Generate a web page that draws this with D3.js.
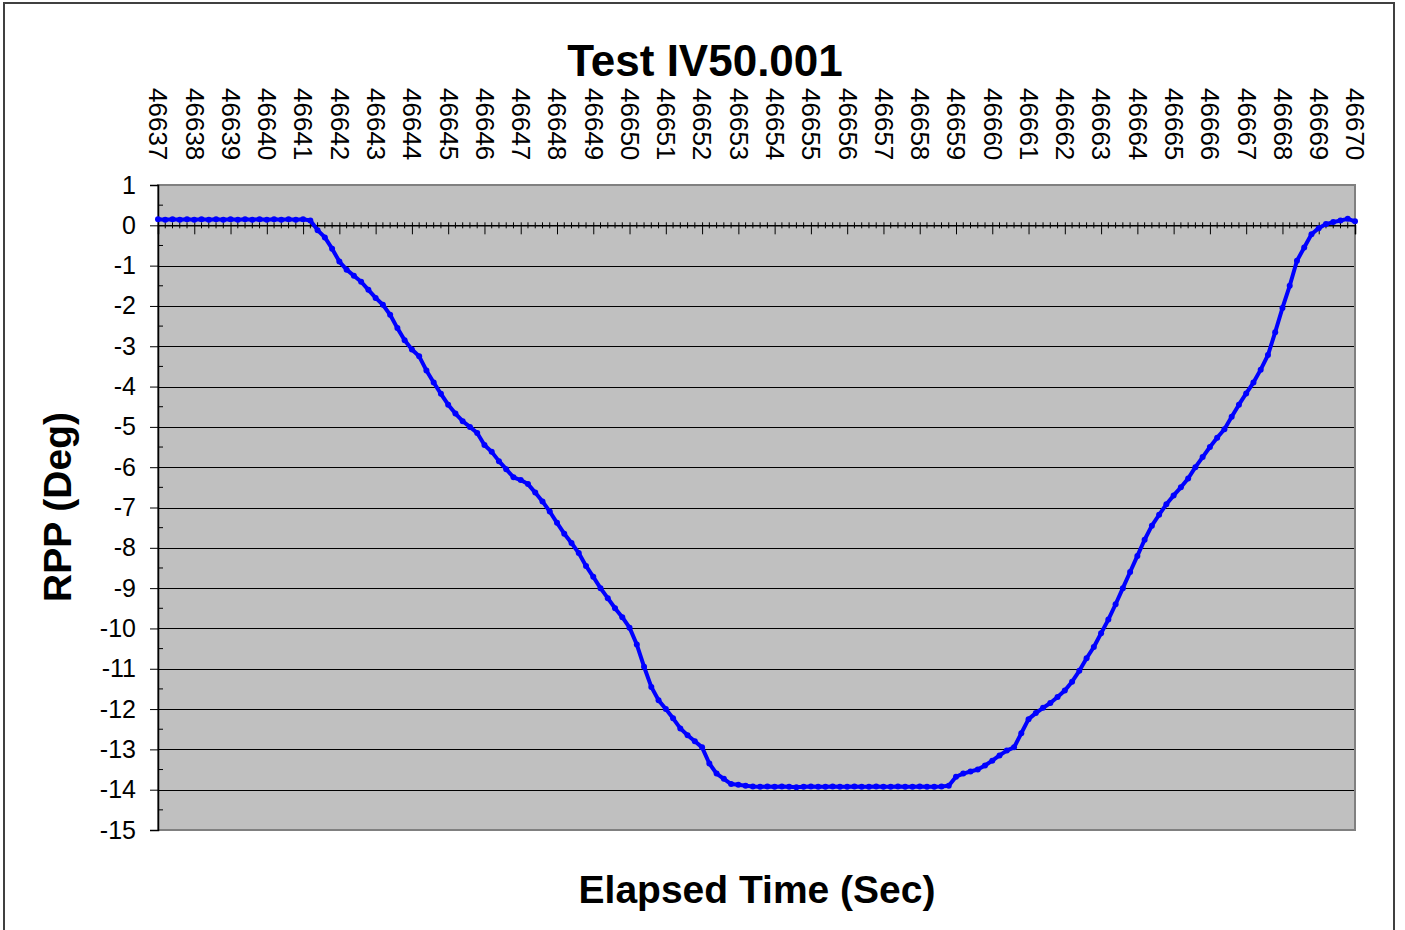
<!DOCTYPE html>
<html>
<head>
<meta charset="utf-8">
<script src="https://cdn.jsdelivr.net/npm/d3@7"></script>
<style>
  html, body { margin: 0; padding: 0; background: #fff; }
  svg { display: block; font-family: "Liberation Sans", Arial, sans-serif; }
</style>
</head>
<body>
<svg id="chart" width="1405" height="930"></svg>
<script>
// ---- data ----
const chartTitle = "Test IV50.001";
const xTitle = "Elapsed Time (Sec)";
const yTitle = "RPP (Deg)";
const startTime = 46637;      // first sample (s)
const sampleStep = 0.2;       // seconds between samples
const timeTicks = d3.range(46637, 46671);   // labelled seconds 46637..46670
const rppTicks = d3.range(-15, 2);          // -15..1
// RPP (deg), one value per 0.2 s from 46637.0 to 46670.0
const rppValues = [
  0.15, 0.14, 0.15, 0.14, 0.15,
  0.14, 0.15, 0.14, 0.15, 0.14,
  0.15, 0.14, 0.15, 0.14, 0.15,
  0.14, 0.15, 0.14, 0.15, 0.14,
  0.15, 0.12, -0.12, -0.30, -0.58,
  -0.90, -1.10, -1.25, -1.40, -1.60,
  -1.80, -1.97, -2.22, -2.55, -2.85,
  -3.08, -3.25, -3.60, -3.90, -4.18,
  -4.45, -4.67, -4.86, -5.00, -5.15,
  -5.45, -5.62, -5.85, -6.05, -6.25,
  -6.32, -6.42, -6.63, -6.85, -7.10,
  -7.38, -7.65, -7.88, -8.13, -8.45,
  -8.72, -9.00, -9.25, -9.50, -9.72,
  -9.98, -10.40, -10.95, -11.45, -11.78,
  -12.00, -12.23, -12.48, -12.65, -12.80,
  -12.95, -13.35, -13.60, -13.73, -13.86,
  -13.88, -13.90, -13.92, -13.93, -13.92,
  -13.93, -13.92, -13.93, -13.94, -13.93,
  -13.92, -13.93, -13.93, -13.92, -13.93,
  -13.93, -13.92, -13.93, -13.93, -13.92,
  -13.93, -13.93, -13.92, -13.93, -13.93,
  -13.92, -13.93, -13.93, -13.92, -13.90,
  -13.68, -13.60, -13.55, -13.50, -13.40,
  -13.28, -13.15, -13.03, -12.95, -12.60,
  -12.25, -12.10, -11.97, -11.85, -11.70,
  -11.54, -11.32, -11.05, -10.74, -10.46,
  -10.12, -9.78, -9.40, -9.00, -8.60,
  -8.20, -7.80, -7.45, -7.18, -6.92,
  -6.70, -6.50, -6.28, -6.00, -5.75,
  -5.50, -5.27, -5.06, -4.75, -4.45,
  -4.17, -3.90, -3.58, -3.22, -2.65,
  -2.05, -1.50, -0.88, -0.55, -0.22,
  -0.07, 0.03, 0.08, 0.12, 0.16,
  0.10
];

// ---- layout ----
const svg = d3.select("#chart");
const plot = { left: 158, right: 1355, top: 185, bottom: 830 };

const x = d3.scaleLinear().domain([46637, 46670]).range([plot.left, plot.right]);
const y = d3.scaleLinear().domain([-15, 1]).range([plot.bottom, plot.top]);

const data = rppValues.map((v, i) => ({ t: startTime + i * sampleStep, v }));

// outer chart border
svg.append("rect")
  .attr("x", 4).attr("y", 3).attr("width", 1390).attr("height", 960)
  .attr("fill", "#fff").attr("stroke", "#404040").attr("stroke-width", 2);

// plot area
svg.append("rect")
  .attr("x", plot.left).attr("y", plot.top)
  .attr("width", plot.right - plot.left).attr("height", plot.bottom - plot.top)
  .attr("fill", "#c0c0c0");

// gridlines
svg.append("g")
  .selectAll("line")
  .data(rppTicks.filter(d => d > -15 && d < 1))
  .join("line")
  .attr("x1", plot.left).attr("x2", plot.right)
  .attr("y1", d => Math.round(y(d)) + 0.5).attr("y2", d => Math.round(y(d)) + 0.5)
  .attr("stroke", "#000").attr("stroke-width", 1);

// plot border
svg.append("rect")
  .attr("x", plot.left).attr("y", plot.top)
  .attr("width", plot.right - plot.left).attr("height", plot.bottom - plot.top)
  .attr("fill", "none").attr("stroke", "#808080").attr("stroke-width", 2);

// y axis
const yAxis = d3.axisLeft(y).tickValues(rppTicks).tickSize(8).tickPadding(14)
  .tickFormat(d => String(d));
const gy = svg.append("g").attr("transform", `translate(${plot.left},0)`).call(yAxis);
gy.select(".domain").attr("stroke", "#000").attr("stroke-width", 1.5);
gy.selectAll(".tick line").attr("stroke", "#000");
gy.selectAll(".tick text").attr("font-size", 25).attr("fill", "#000")
  .attr("font-family", "'Liberation Sans', Arial, sans-serif");
// y minor ticks (inside)
const yMinor = d3.range(-14.5, 1, 1);
svg.append("g").selectAll("line").data(yMinor).join("line")
  .attr("x1", plot.left).attr("x2", plot.left + 5)
  .attr("y1", d => y(d)).attr("y2", d => y(d))
  .attr("stroke", "#000");

// x axis at y = 0 : major ticks
const xAxisLine = d3.axisBottom(x).tickValues(timeTicks).tickSize(9).tickFormat("");
const gx = svg.append("g").attr("transform", `translate(0,${y(0)})`).call(xAxisLine);
gx.select(".domain").attr("stroke", "#000").attr("stroke-width", 1.5);
gx.selectAll(".tick line").attr("stroke", "#000").attr("y1", -3);
// minor ticks every 0.2 s
const xMinor = d3.range(0, 33 * 5 + 1).map(i => startTime + i * sampleStep)
  .filter((d, i) => i % 5 !== 0);
gx.append("g").selectAll("line").data(xMinor).join("line")
  .attr("x1", d => x(d)).attr("x2", d => x(d))
  .attr("y1", -3).attr("y2", 3)
  .attr("stroke", "#000");

// x tick labels at top, rotated
const xLabelAxis = d3.axisTop(x).tickValues(timeTicks).tickSize(0).tickFormat(d => String(d));
const gxl = svg.append("g").attr("transform", `translate(0,88)`).call(xLabelAxis);
gxl.select(".domain").remove();
gxl.selectAll(".tick text")
  .attr("font-size", 26).attr("fill", "#000")
  .attr("font-family", "'Liberation Sans', Arial, sans-serif")
  .attr("transform", "rotate(90)")
  .attr("text-anchor", "start")
  .attr("x", 0).attr("y", 0).attr("dy", "0.35em");

// series line
const line = d3.line().x(d => x(d.t)).y(d => y(d.v));
svg.append("path").datum(data)
  .attr("d", line)
  .attr("fill", "none").attr("stroke", "#0000ff").attr("stroke-width", 4)
  .attr("stroke-linejoin", "round");
svg.append("g").selectAll("circle").data(data).join("circle")
  .attr("cx", d => x(d.t)).attr("cy", d => y(d.v)).attr("r", 3)
  .attr("fill", "#0000ff");

// titles
svg.append("text").attr("x", 705).attr("y", 76)
  .attr("text-anchor", "middle").attr("font-size", 44).attr("font-weight", "bold")
  .text(chartTitle);
svg.append("text").attr("x", 757).attr("y", 903)
  .attr("text-anchor", "middle").attr("font-size", 39).attr("font-weight", "bold")
  .text(xTitle);
svg.append("text")
  .attr("transform", `translate(71,507) rotate(-90)`)
  .attr("text-anchor", "middle").attr("font-size", 39).attr("font-weight", "bold")
  .text(yTitle);
</script>
</body>
</html>
